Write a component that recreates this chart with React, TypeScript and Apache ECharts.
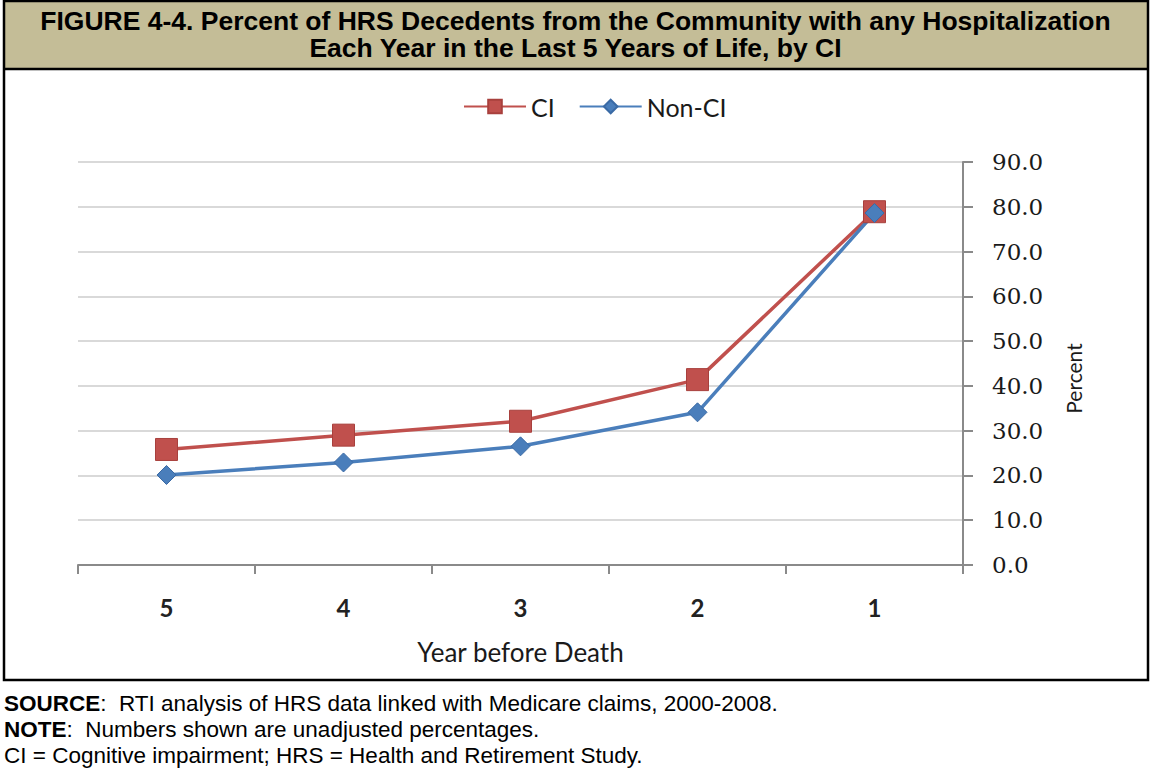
import React, { useEffect, useRef } from "react";
import * as echarts from "echarts";

const categories = ["5", "4", "3", "2", "1"];
const ciValues = [25.8, 29.0, 32.1, 41.4, 78.9];
const nonCiValues = [20.1, 22.9, 26.5, 34.1, 78.6];
const seriesNames = ["CI", "Non-CI"];
const titleLines = [
  "FIGURE 4-4. Percent of HRS Decedents from the Community with any Hospitalization",
  "Each Year in the Last 5 Years of Life, by CI",
];
const footerLines = [
  ["SOURCE", ":  RTI analysis of HRS data linked with Medicare claims, 2000-2008."],
  ["NOTE", ":  Numbers shown are unadjusted percentages."],
  ["", "CI = Cognitive impairment; HRS = Health and Retirement Study."],
];

const W = 1151;
const H = 772;

export default function App() {
  const ref = useRef<HTMLDivElement>(null);
  useEffect(() => {
    if (!ref.current) return;
    const chart = echarts.init(ref.current, null, { renderer: "svg" });
    const footerGraphics = footerLines.map((l, i) => ({
      type: "text",
      left: 4,
      top: 692 + i * 26,
      z: 10,
      style: {
        text: (l[0] ? "{b|" + l[0] + "}" : "") + l[1],
        font: "22.5px 'Liberation Sans', Arial, sans-serif",
        fill: "#000",
        rich: {
          b: { fontWeight: "bold", fontSize: 22.5, fontFamily: "'Liberation Sans', Arial, sans-serif", fill: "#000" },
        },
      },
    }));
    chart.setOption({
      animation: false,
      backgroundColor: "#ffffff",
      graphic: [
        {
          type: "rect",
          shape: { x: 4, y: 1, width: W - 7, height: 68 },
          style: { fill: "#c4bd97" },
          z: -1,
        },
        {
          type: "rect",
          shape: { x: 4, y: 1, width: W - 7, height: 679 },
          style: { fill: "none", stroke: "#000", lineWidth: 2.5 },
          z: 5,
        },
        {
          type: "line",
          shape: { x1: 4, y1: 69, x2: W - 3, y2: 69 },
          style: { stroke: "#000", lineWidth: 2.5 },
          z: 5,
        },
        ...titleLines.map((t, i) => ({
          type: "text",
          x: W / 2,
          y: 21 + i * 27,
          z: 10,
          style: {
            text: t,
            font: "bold 26.5px 'Liberation Sans', Arial, sans-serif",
            fill: "#000",
            align: "center",
            verticalAlign: "middle",
          },
        })),
        ...footerGraphics,
      ],
      legend: {
        data: seriesNames,
        left: 458,
        top: 89,
        itemWidth: 62,
        itemHeight: 17,
        itemGap: 24,
        textStyle: { fontFamily: "Lato", fontSize: 25, color: "#1a1a1a" },
      },
      grid: { left: 78, right: W - 963, top: 162, bottom: H - 565, containLabel: false },
      xAxis: {
        type: "category",
        data: categories,
        boundaryGap: true,
        axisLine: { show: true, lineStyle: { color: "#8a8a8a", width: 2 } },
        axisTick: { show: true, length: 9, lineStyle: { color: "#8a8a8a", width: 2 } },
        axisLabel: { fontFamily: "Lato", fontSize: 24, fontWeight: "bold", color: "#222", margin: 30 },
        name: "Year before Death",
        nameLocation: "middle",
        nameGap: 74,
        nameTextStyle: { fontFamily: "Lato", fontSize: 26, color: "#1a1a1a" },
      },
      yAxis: {
        type: "value",
        position: "right",
        min: 0,
        max: 90,
        interval: 10,
        axisLine: { show: true, lineStyle: { color: "#8a8a8a", width: 2 } },
        axisTick: { show: true, length: 10, lineStyle: { color: "#8a8a8a", width: 2 } },
        splitLine: { show: true, lineStyle: { color: "#d9d9d9", width: 2 } },
        axisLabel: {
          formatter: (v: number) => v.toFixed(1),
          fontFamily: "DejaVu Serif",
          fontSize: 23,
          color: "#1a1a1a",
          margin: 29,
        },
        name: "Percent",
        nameLocation: "middle",
        nameRotate: 90,
        nameGap: 100,
        nameTextStyle: { fontFamily: "Lato", fontSize: 21, color: "#1a1a1a", padding: [0, 30, 0, 0] },
      },
      series: [
        {
          name: seriesNames[0],
          type: "line",
          data: ciValues,
          symbol: "rect",
          symbolSize: 22,
          color: "#c0504d",
          lineStyle: { color: "#c0504d", width: 3.5 },
          itemStyle: { color: "#c0504d", borderColor: "#a8403d", borderWidth: 1 },
        },
        {
          name: seriesNames[1],
          type: "line",
          data: nonCiValues,
          symbol: "diamond",
          symbolSize: 19,
          color: "#4a7ebb",
          lineStyle: { color: "#4a7ebb", width: 3.5 },
          itemStyle: { color: "#4a7ebb", borderColor: "#3a6aa5", borderWidth: 1 },
        },
      ],
    });
    return () => chart.dispose();
  }, []);
  return (
    <div
      ref={ref}
      style={{ position: "fixed", left: 0, top: 0, width: W, height: H, background: "#fff" }}
    />
  );
}
